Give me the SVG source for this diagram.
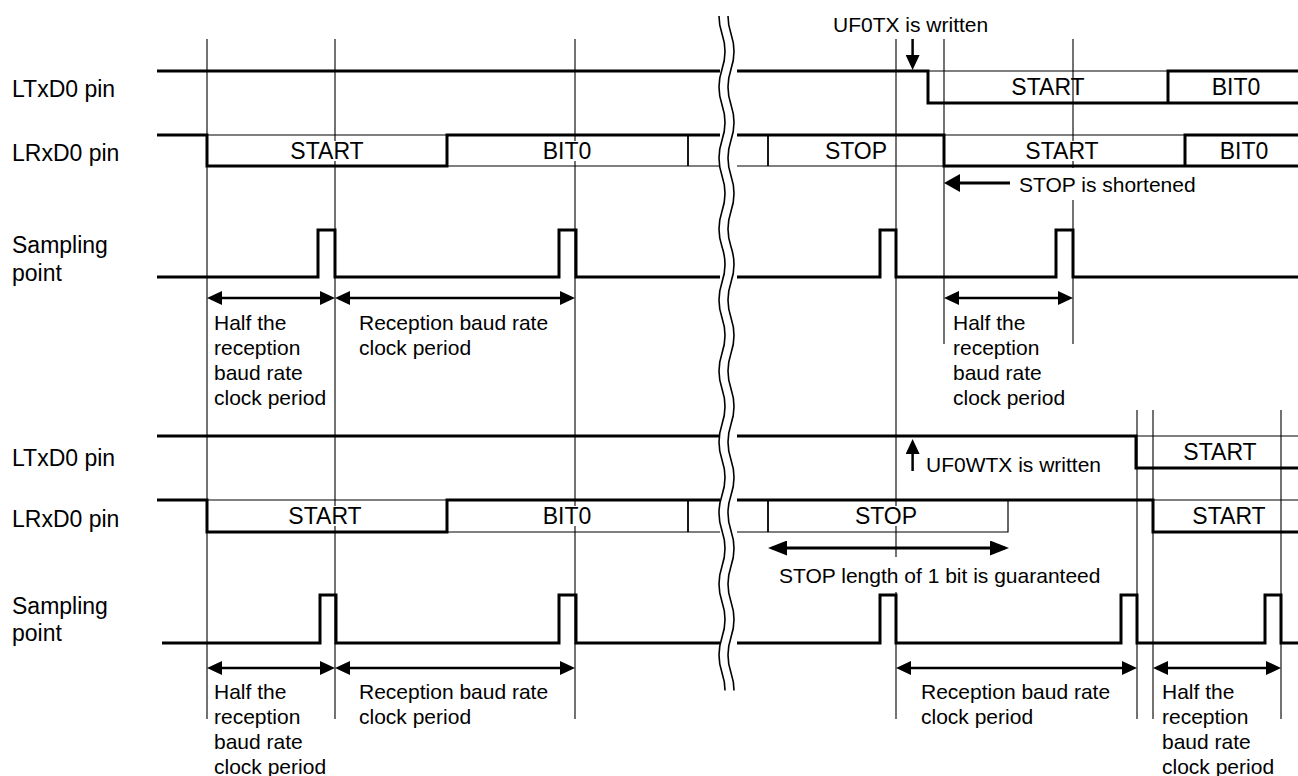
<svg xmlns="http://www.w3.org/2000/svg" width="1298" height="776" viewBox="0 0 1298 776">
<style>
.thick{fill:none;stroke:#000;stroke-width:3;stroke-linejoin:miter}
.thin{fill:none;stroke:#000;stroke-width:1.2}
.mid1{fill:none;stroke:#000;stroke-width:1.8}
.guide{fill:none;stroke:#000;stroke-width:1.1}
.wave{fill:none;stroke:#000;stroke-width:1.6}
.lbl{font-family:"Liberation Sans",Arial,sans-serif;font-size:23px;fill:#000}
.ann{font-family:"Liberation Sans",Arial,sans-serif;font-size:21px;fill:#000}
.mid{text-anchor:middle}
.bg{fill:#fff;stroke:none}
.arr{fill:none;stroke:#000;stroke-width:2.5}
.arr3{fill:none;stroke:#000;stroke-width:3}
</style>
<defs>
<marker id="ah" markerUnits="userSpaceOnUse" markerWidth="15" markerHeight="14" viewBox="0 0 15 14" refX="11" refY="7" orient="auto-start-reverse"><path d="M0,0 L15,7 L0,14 z" fill="#000"/></marker>
<marker id="ahL" markerUnits="userSpaceOnUse" markerWidth="19" markerHeight="15" viewBox="0 0 19 15" refX="15" refY="7.5" orient="auto-start-reverse"><path d="M0,0 L19,7.5 L0,15 z" fill="#000"/></marker>
<marker id="ahS" markerUnits="userSpaceOnUse" markerWidth="16" markerHeight="18" viewBox="0 0 16 18" refX="12" refY="9" orient="auto-start-reverse"><path d="M0,0 L16,9 L0,18 z" fill="#000"/></marker>
</defs>
<rect width="1298" height="776" fill="#fff"/>

<g id="guides">
<path class="guide" d="M207,39V719M335,39V719M575,39V719M896,39V719M944,39V344M1073,39V344M1137,410V719M1153,410V719M1281,410V719"/>
</g>

<g id="labels">
<text class="lbl" x="12" y="97">LTxD0 pin</text>
<text class="lbl" x="12" y="161">LRxD0 pin</text>
<text class="lbl" x="12" y="253">Sampling</text>
<text class="lbl" x="12" y="281">point</text>
<text class="lbl" x="12" y="466">LTxD0 pin</text>
<text class="lbl" x="12" y="527">LRxD0 pin</text>
<text class="lbl" x="12" y="614">Sampling</text>
<text class="lbl" x="12" y="641">point</text>
</g>

<g id="top-ltxd0">
<path class="thick" d="M157,71H720M737,71H928V103H1168V71H1298M1168,103H1298"/>
<path class="thin" d="M928,71H1168"/>
<text class="lbl mid" x="1048" y="95">START</text>
<text class="lbl mid" x="1236" y="95">BIT0</text>
</g>

<g id="top-lrxd0">
<path class="thick" d="M157,135H207V166H447V135H720M737,135H944V166H1185V135H1298M1185,166H1298"/>
<path class="thin" d="M207,135H447M447,166H720M737,166H944M944,135H1185"/>
<path class="mid1" d="M688,135V166M768,135V166"/>
<rect class="bg" x="288" y="141" width="78" height="20"/>
<text class="lbl mid" x="327" y="159">START</text>
<rect class="bg" x="541" y="141" width="53" height="20"/>
<text class="lbl mid" x="567" y="159">BIT0</text>
<text class="lbl mid" x="856" y="159">STOP</text>
<rect class="bg" x="1022" y="141" width="80" height="20"/>
<text class="lbl mid" x="1062" y="159">START</text>
<text class="lbl mid" x="1244" y="159">BIT0</text>
</g>

<g id="top-sampling">
<path class="thick" d="M157,277H318V230H335V277H559V230H576V277H720M737,277H880V230H896V277H1056V230H1073V277H1298"/>
</g>

<g id="bottom-ltxd0">
<path class="thick" d="M157,436H720M737,436H1136V468H1298"/>
<path class="thin" d="M1136,436H1298"/>
<text class="lbl mid" x="1220" y="460">START</text>
</g>

<g id="bottom-lrxd0">
<path class="thick" d="M157,500H207V532H447V500H720M737,500H1153V532H1298"/>
<path class="thin" d="M207,500H447M447,532H720M737,532H1008V500M1153,500H1298"/>
<path class="mid1" d="M688,500V532M768,500V532"/>
<rect class="bg" x="286" y="506" width="78" height="20"/>
<text class="lbl mid" x="325" y="524">START</text>
<rect class="bg" x="541" y="506" width="53" height="20"/>
<text class="lbl mid" x="567" y="524">BIT0</text>
<rect class="bg" x="853" y="506" width="66" height="20"/>
<text class="lbl mid" x="886" y="524">STOP</text>
<text class="lbl mid" x="1229" y="524">START</text>
</g>

<g id="bottom-sampling">
<path class="thick" d="M162,643H320V595H336V643H559V595H576V643H720M737,643H880V595H896V643H1121V595H1137V643H1265V595H1281V643H1298"/>
</g>

<g id="break">
<path class="wave" d="M719,16c0,17.75 6,17.75 6,35.5s-6,17.75 -6,35.5s6,17.75 6,35.5s-6,17.75 -6,35.5s6,17.75 6,35.5s-6,17.75 -6,35.5s6,17.75 6,35.5s-6,17.75 -6,35.5s6,17.75 6,35.5s-6,17.75 -6,35.5s6,17.75 6,35.5s-6,17.75 -6,35.5s6,17.75 6,35.5s-6,17.75 -6,35.5s6,17.75 6,35.5s-6,17.75 -6,35.5s6,17.75 6,35.5s-6,17.75 -6,35.5s6,17.75 6,35.5"/>
<path class="wave" d="M728,16c0,17.75 6,17.75 6,35.5s-6,17.75 -6,35.5s6,17.75 6,35.5s-6,17.75 -6,35.5s6,17.75 6,35.5s-6,17.75 -6,35.5s6,17.75 6,35.5s-6,17.75 -6,35.5s6,17.75 6,35.5s-6,17.75 -6,35.5s6,17.75 6,35.5s-6,17.75 -6,35.5s6,17.75 6,35.5s-6,17.75 -6,35.5s6,17.75 6,35.5s-6,17.75 -6,35.5s6,17.75 6,35.5s-6,17.75 -6,35.5s6,17.75 6,35.5"/>
</g>

<g id="connectors">
<line class="arr" x1="211" y1="298" x2="331" y2="298" marker-start="url(#ah)" marker-end="url(#ah)"/>
<line class="arr" x1="339" y1="298" x2="571" y2="298" marker-start="url(#ah)" marker-end="url(#ah)"/>
<line class="arr" x1="948" y1="298" x2="1069" y2="298" marker-start="url(#ah)" marker-end="url(#ah)"/>
<line class="arr" x1="211" y1="668" x2="331" y2="668" marker-start="url(#ah)" marker-end="url(#ah)"/>
<line class="arr" x1="339" y1="668" x2="571" y2="668" marker-start="url(#ah)" marker-end="url(#ah)"/>
<line class="arr" x1="900" y1="668" x2="1133" y2="668" marker-start="url(#ah)" marker-end="url(#ah)"/>
<line class="arr" x1="1157" y1="668" x2="1277" y2="668" marker-start="url(#ah)" marker-end="url(#ah)"/>
<line class="arr3" x1="772" y1="548" x2="1005" y2="548" marker-start="url(#ahL)" marker-end="url(#ahL)"/>
<line class="arr3" x1="1010" y1="183" x2="948" y2="183" marker-end="url(#ahS)"/>
<line class="arr" x1="912.6" y1="39" x2="912.6" y2="66" marker-end="url(#ah)"/>
<line class="arr" x1="912.6" y1="471" x2="912.6" y2="443" marker-end="url(#ah)"/>
</g>

<g id="annotations">
<text class="ann" x="833" y="32">UF0TX is written</text>
<rect class="bg" x="1015" y="168" width="186" height="32"/>
<text class="ann" x="1019" y="192">STOP is shortened</text>
<text class="ann" x="926" y="472">UF0WTX is written</text>
<rect class="bg" x="775" y="557" width="336" height="35"/>
<text class="ann" x="779" y="583">STOP length of 1 bit is guaranteed</text>
<text class="ann" x="214" y="330">Half the<tspan x="214" dy="25">reception</tspan><tspan x="214" dy="25">baud rate</tspan><tspan x="214" dy="25">clock period</tspan></text>
<text class="ann" x="359" y="330">Reception baud rate<tspan x="359" dy="25">clock period</tspan></text>
<text class="ann" x="953" y="330">Half the<tspan x="953" dy="25">reception</tspan><tspan x="953" dy="25">baud rate</tspan><tspan x="953" dy="25">clock period</tspan></text>
<text class="ann" x="214" y="699">Half the<tspan x="214" dy="25">reception</tspan><tspan x="214" dy="25">baud rate</tspan><tspan x="214" dy="25">clock period</tspan></text>
<text class="ann" x="359" y="699">Reception baud rate<tspan x="359" dy="25">clock period</tspan></text>
<text class="ann" x="921" y="699">Reception baud rate<tspan x="921" dy="25">clock period</tspan></text>
<text class="ann" x="1162" y="699">Half the<tspan x="1162" dy="25">reception</tspan><tspan x="1162" dy="25">baud rate</tspan><tspan x="1162" dy="25">clock period</tspan></text>
</g>
</svg>
